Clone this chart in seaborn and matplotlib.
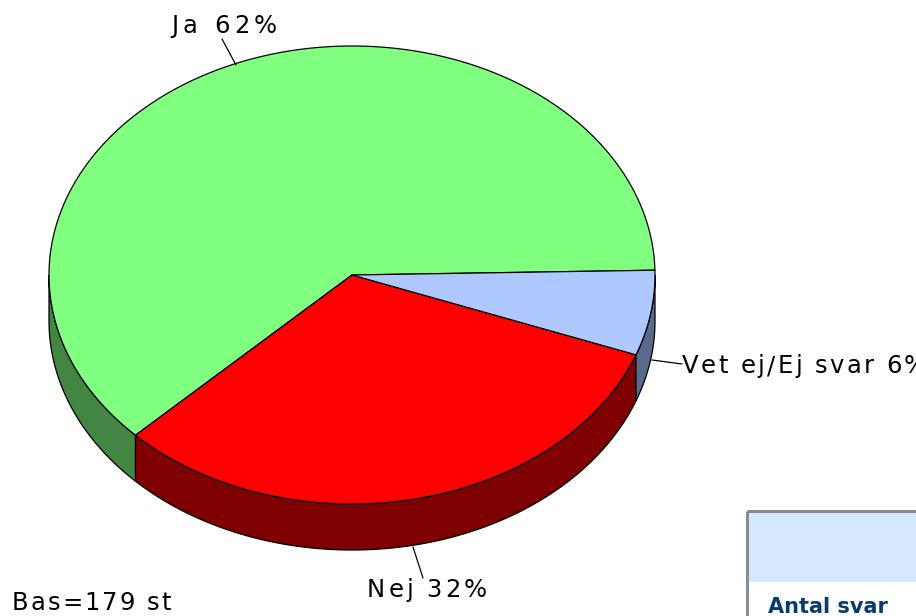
import numpy as np
import matplotlib
matplotlib.use("Agg")
import matplotlib.pyplot as plt
from matplotlib.patches import Polygon, Rectangle
from matplotlib.font_manager import FontProperties, findfont, get_font
import seaborn as sns

# ---- data ----
categories = ["Ja", "Nej", "Vet ej/Ej svar"]
values = [62, 32, 6]
label_texts = ["Ja 62%", "Nej 32%", "Vet ej/Ej svar 6%"]
base_text = "Bas=179 st"
table_header = "Antal svar"

top_colors = ["#80FF80", "#FF0000", "#AFC8FF"]
side_colors = ["#438543", "#7F0000", "#5A6A8C"]

sns.set_theme(style="white")
plt.rcParams["font.family"] = ["DejaVu Sans"]

W, H = 916, 616
fig = plt.figure(figsize=(W / 100, H / 100), dpi=100)
ax = fig.add_axes([0, 0, 1, 1])
ax.set_xlim(0, W)
ax.set_ylim(H, 0)
ax.axis("off")

# pie geometry (pixels)
cx, cy, rx, ry, depth = 352, 275, 303, 229, 46
start = 1.2

vals = np.array(values, dtype=float)
spans = vals / vals.sum() * 360.0
edges = start + np.concatenate([[0], np.cumsum(spans)])


def arc(a0, a1, n=200, dy=0.0):
    ts = np.linspace(a0, a1, n)
    r = np.radians(ts)
    return np.column_stack([cx + rx * np.cos(r), cy - ry * np.sin(r) + dy])


# side walls (front half: 180..360)
for i in range(len(vals)):
    a0, a1 = edges[i], edges[i + 1]
    for lo, hi in [(180, 360), (540, 720)]:
        s, e = max(a0, lo), min(a1, hi)
        if e > s:
            top = arc(s, e)
            bot = arc(e, s, dy=depth)
            poly = Polygon(np.vstack([top, bot]), closed=True,
                           facecolor=side_colors[i], edgecolor="black",
                           linewidth=0.9, zorder=1)
            ax.add_patch(poly)

# top faces
for i in range(len(vals)):
    a0, a1 = edges[i], edges[i + 1]
    pts = np.vstack([[cx, cy], arc(a0, a1, n=400)])
    poly = Polygon(pts, closed=True, facecolor=top_colors[i],
                   edgecolor="black", linewidth=0.9, zorder=2)
    ax.add_patch(poly)

# ---- spaced text helper ----
def char_adv(ch, size, weight="normal"):
    fp = FontProperties(family="DejaVu Sans", weight=weight)
    font = get_font(findfont(fp))
    font.set_size(size, 100)
    g = font.load_char(ord(ch))
    return g.linearHoriAdvance / 65536.0


def spaced_text(x, y, s, size, spacing, color="black", weight="normal"):
    xi = x
    for ch in s:
        if ch != " ":
            ax.text(xi, y, ch, fontsize=size, ha="left", va="baseline",
                    color=color, fontweight=weight, zorder=5, clip_on=False)
        xi += char_adv(ch, size, weight) + spacing


fs = 17.5

# labels and leader lines
spaced_text(171, 33, label_texts[0], fs, 4.5)
ax.plot([222, 236], [39, 65], color="black", lw=0.9, zorder=3)

spaced_text(367, 597, label_texts[1], fs, 3.0)
ax.plot([413, 423], [547, 578], color="black", lw=0.9, zorder=3)

spaced_text(682, 373, label_texts[2], fs, 2.4)
ax.plot([652, 682], [360, 364], color="black", lw=0.9, zorder=3)

spaced_text(12, 610, base_text, fs, 2.0)

# table fragment
ax.add_patch(Rectangle((747, 511), W - 747, 71, facecolor="#D6E8FF",
                       edgecolor="none", zorder=1))
ax.plot([747, 747], [511, H], color="#8C8C8C", lw=2.2, zorder=2,
        solid_capstyle="butt")
ax.plot([747, W], [511, 511], color="#8C8C8C", lw=2.2, zorder=2,
        solid_capstyle="butt")
ax.text(768, 613, table_header, fontsize=15, fontweight="bold",
        color="#0B3A6E", ha="left", va="baseline", zorder=5)

fig.savefig("out.png", dpi=100)
